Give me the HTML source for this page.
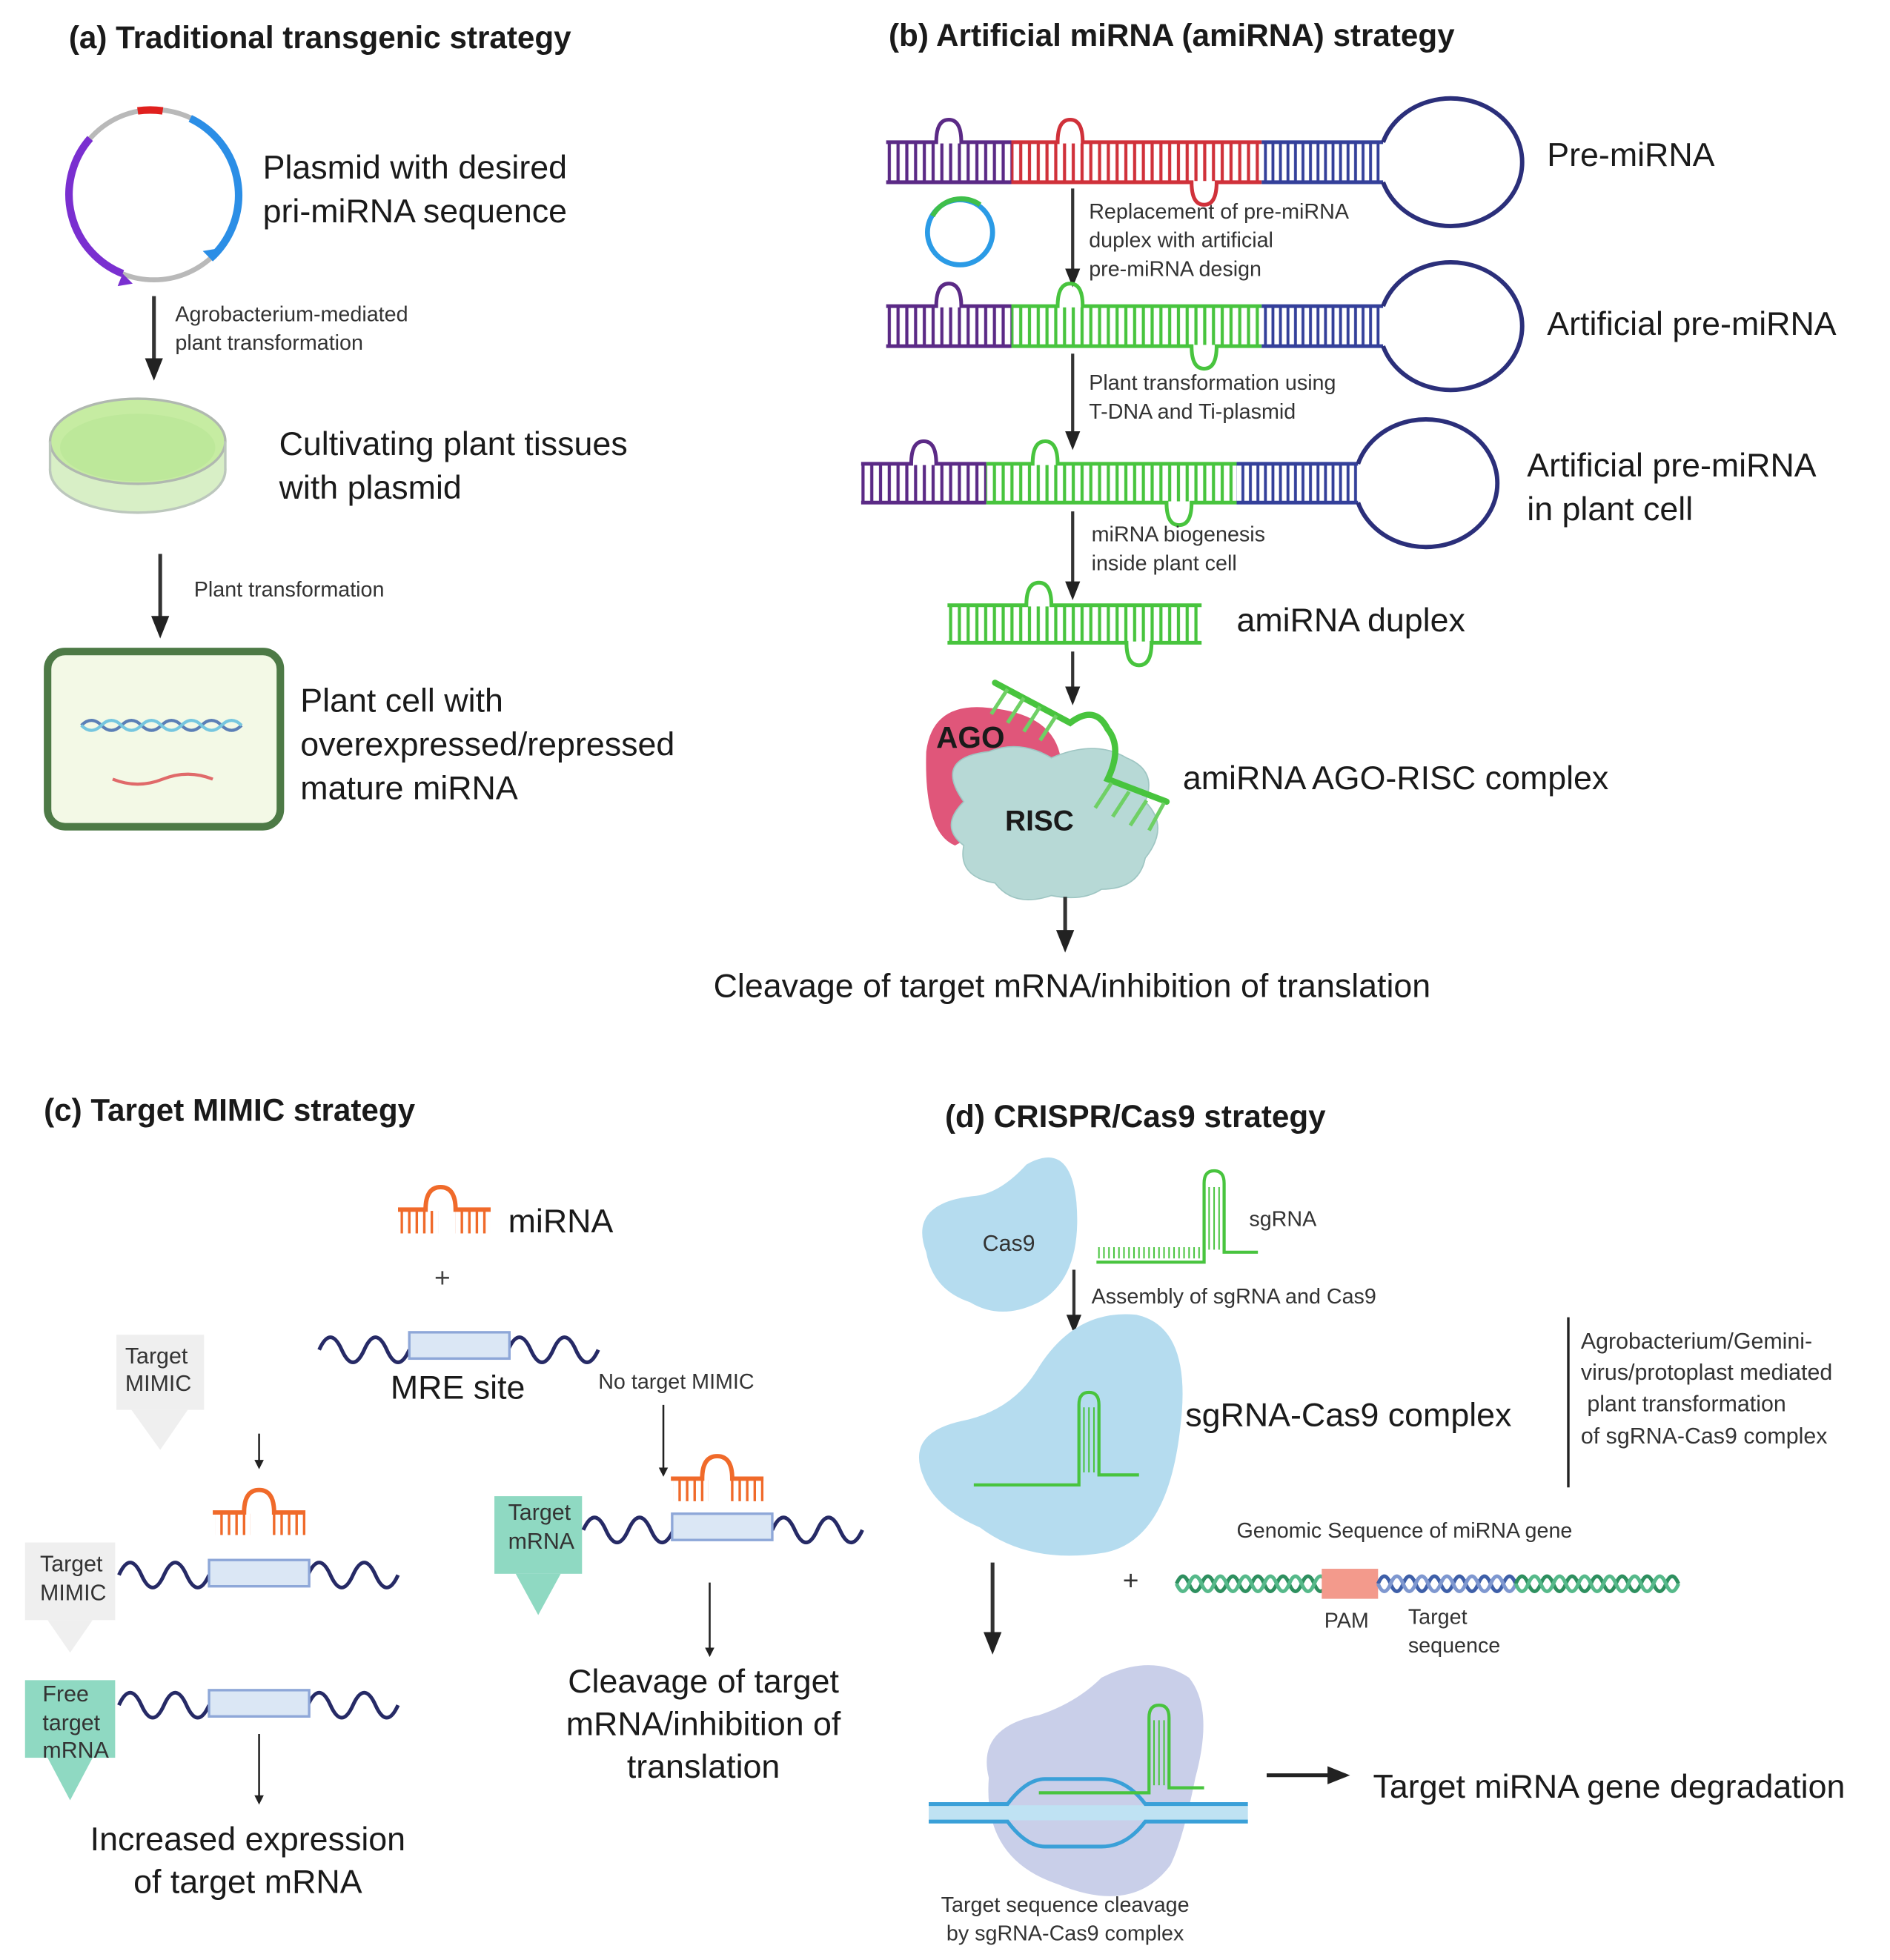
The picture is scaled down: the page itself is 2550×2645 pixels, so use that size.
<!DOCTYPE html>
<html><head><meta charset="utf-8"><style>
html,body{margin:0;padding:0;background:#fff;}
svg{display:block;}
text{font-family:"Liberation Sans",sans-serif;fill:#1a1a1a;}
.h{font-weight:bold;font-size:25px;}
.L{font-size:26.5px;}
.s{font-size:17px;fill:#333;}
.m{font-size:18px;fill:#333;}
</style></head><body>
<svg width="2550" height="2645" viewBox="0 0 1510 1565" xmlns="http://www.w3.org/2000/svg">
<defs>
<pattern id="pp" width="7" height="40" patternUnits="userSpaceOnUse"><line x1="3.5" y1="0" x2="3.5" y2="40" stroke="#5b2a86" stroke-width="2.5"/></pattern>
<pattern id="pr" width="7" height="40" patternUnits="userSpaceOnUse"><line x1="3.5" y1="0" x2="3.5" y2="40" stroke="#d0313a" stroke-width="2.5"/></pattern>
<pattern id="pg" width="7" height="40" patternUnits="userSpaceOnUse"><line x1="3.5" y1="0" x2="3.5" y2="40" stroke="#48c43e" stroke-width="2.5"/></pattern>
<pattern id="pb" width="6" height="40" patternUnits="userSpaceOnUse"><line x1="3" y1="0" x2="3" y2="40" stroke="#34409a" stroke-width="2.3"/></pattern>
<pattern id="po" width="6" height="40" patternUnits="userSpaceOnUse"><line x1="3" y1="0" x2="3" y2="40" stroke="#f06a2a" stroke-width="2"/></pattern>
<pattern id="pl" width="4" height="40" patternUnits="userSpaceOnUse"><line x1="2" y1="0" x2="2" y2="40" stroke="#48c43e" stroke-width="1.2"/></pattern>
<marker id="ar" viewBox="0 0 10 10" refX="8" refY="5" markerWidth="5" markerHeight="5" orient="auto"><path d="M0,0 L10,5 L0,10 z" fill="#222"/></marker>
<marker id="ar2" viewBox="0 0 10 10" refX="8" refY="5" markerWidth="6" markerHeight="6" orient="auto"><path d="M0,1 L10,5 L0,9 z" fill="#222"/></marker>
</defs>

<!-- ===== Panel a ===== -->
<text class="h" x="55" y="38">(a) Traditional transgenic strategy</text>
<circle cx="123" cy="155" r="68" fill="none" stroke="#b9b9b9" stroke-width="4"/>
<path d="M110,88 A68,68 0 0 1 130,88" fill="none" stroke="#e0201e" stroke-width="6"/>
<path d="M152,94 A68,68 0 0 1 168,206" fill="none" stroke="#2b8ee6" stroke-width="6"/>
<path d="M72,110 A68,68 0 0 0 98,218" fill="none" stroke="#7a2fd0" stroke-width="6"/>
<path d="M98,218 l8,8 l-12,2 z" fill="#7a2fd0"/>
<path d="M168,206 l6,-8 l-12,2 z" fill="#2b8ee6"/>
<text class="L" x="210" y="142">Plasmid with desired</text>
<text class="L" x="210" y="177">pri-miRNA sequence</text>
<line x1="123" y1="236" x2="123" y2="300" stroke="#333" stroke-width="3" marker-end="url(#ar2)"/>
<text class="s" x="140" y="256">Agrobacterium-mediated</text>
<text class="s" x="140" y="279">plant transformation</text>
<ellipse cx="110" cy="375" rx="70" ry="34" fill="#d8efc6" stroke="#bcc7bd" stroke-width="2"/>
<rect x="40" y="352" width="140" height="23" fill="#d8efc6"/>
<ellipse cx="110" cy="352" rx="70" ry="34" fill="#c6eca2" stroke="#b0b8b0" stroke-width="2"/>
<ellipse cx="110" cy="357" rx="62" ry="27" fill="#bde89a"/>
<line x1="40" y1="352" x2="40" y2="375" stroke="#bcc7bd" stroke-width="2"/>
<line x1="180" y1="352" x2="180" y2="375" stroke="#bcc7bd" stroke-width="2"/>
<text class="L" x="223" y="363">Cultivating plant tissues</text>
<text class="L" x="223" y="398">with plasmid</text>
<line x1="128" y1="442" x2="128" y2="506" stroke="#333" stroke-width="3" marker-end="url(#ar2)"/>
<text class="s" x="155" y="476">Plant transformation</text>
<rect x="38" y="520" width="186" height="140" rx="14" fill="#f3f9e6" stroke="#4d7a46" stroke-width="6"/>
<path d="M65,579 q8,-8 16,0 t16,0 t16,0 t16,0 t16,0 t16,0 t16,0 t16,0" fill="none" stroke="#5b7fb6" stroke-width="2.5"/>
<path d="M65,579 q8,8 16,0 t16,0 t16,0 t16,0 t16,0 t16,0 t16,0 t16,0" fill="none" stroke="#76c6df" stroke-width="2.5"/>
<path d="M90,622 q20,8 40,0 t40,0" fill="none" stroke="#e06a6a" stroke-width="2.5"/>
<text class="L" x="240" y="568">Plant cell with</text>
<text class="L" x="240" y="603">overexpressed/repressed</text>
<text class="L" x="240" y="638">mature miRNA</text>

<!-- ===== Panel b ===== -->
<text class="h" x="710" y="36">(b) Artificial miRNA (amiRNA) strategy</text>

<g stroke-width="3" fill="none">
<rect x="708" y="114" width="100" height="30" fill="url(#pp)" stroke="none"/>
<rect x="808" y="114" width="200" height="30" fill="url(#pr)" stroke="none"/>
<rect x="1008" y="114" width="97" height="30" fill="url(#pb)" stroke="none"/>
<path d="M708,113 H748 q0,-18 10,-18 q10,0 10,18 H808" stroke="#5b2a86"/>
<path d="M708,145 H808" stroke="#5b2a86"/>
<path d="M808,113 H845 q0,-18 10,-18 q10,0 10,18 H1008" stroke="#d0313a"/>
<path d="M808,145 H952 q0,18 10,18 q10,0 10,-18 H1008" stroke="#d0313a"/>
<path d="M1008,113 H1105" stroke="#34409a"/>
<path d="M1008,145 H1105" stroke="#34409a"/>
<path d="M1105,113 A57,51 0 1 1 1105,145" stroke="#2b2f7a" stroke-width="3.5"/>
</g>
<text class="L" x="1236" y="132">Pre-miRNA</text>
<circle cx="767" cy="185" r="26" fill="none" stroke="#2b9be6" stroke-width="4"/>
<path d="M745,172 A26,26 0 0 1 783,163" fill="none" stroke="#3fbf4a" stroke-width="4"/>
<line x1="857" y1="150" x2="857" y2="226" stroke="#333" stroke-width="2.5" marker-end="url(#ar2)"/>
<text class="s" x="870" y="174">Replacement of pre-miRNA</text>
<text class="s" x="870" y="197">duplex with artificial</text>
<text class="s" x="870" y="220">pre-miRNA design</text>

<g stroke-width="3" fill="none">
<rect x="708" y="245" width="100" height="30" fill="url(#pp)" stroke="none"/>
<rect x="808" y="245" width="200" height="30" fill="url(#pg)" stroke="none"/>
<rect x="1008" y="245" width="97" height="30" fill="url(#pb)" stroke="none"/>
<path d="M708,244 H748 q0,-18 10,-18 q10,0 10,18 H808" stroke="#5b2a86"/>
<path d="M708,276 H808" stroke="#5b2a86"/>
<path d="M808,244 H845 q0,-18 10,-18 q10,0 10,18 H1008" stroke="#48c43e"/>
<path d="M808,276 H952 q0,18 10,18 q10,0 10,-18 H1008" stroke="#48c43e"/>
<path d="M1008,244 H1105" stroke="#34409a"/>
<path d="M1008,276 H1105" stroke="#34409a"/>
<path d="M1105,244 A57,51 0 1 1 1105,276" stroke="#2b2f7a" stroke-width="3.5"/>
</g>
<text class="L" x="1236" y="267">Artificial pre-miRNA</text>
<line x1="857" y1="282" x2="857" y2="356" stroke="#333" stroke-width="2.5" marker-end="url(#ar2)"/>
<text class="s" x="870" y="311">Plant transformation using</text>
<text class="s" x="870" y="334">T-DNA and Ti-plasmid</text>

<g stroke-width="3" fill="none">
<rect x="688" y="371" width="100" height="29" fill="url(#pp)" stroke="none"/>
<rect x="788" y="371" width="200" height="29" fill="url(#pg)" stroke="none"/>
<rect x="988" y="371" width="97" height="29" fill="url(#pb)" stroke="none"/>
<path d="M688,370 H728 q0,-18 10,-18 q10,0 10,18 H788" stroke="#5b2a86"/>
<path d="M688,401 H788" stroke="#5b2a86"/>
<path d="M788,370 H825 q0,-18 10,-18 q10,0 10,18 H988" stroke="#48c43e"/>
<path d="M788,401 H932 q0,18 10,18 q10,0 10,-18 H988" stroke="#48c43e"/>
<path d="M988,370 H1085" stroke="#34409a"/>
<path d="M988,401 H1085" stroke="#34409a"/>
<path d="M1085,370 A57,51 0 1 1 1085,401" stroke="#2b2f7a" stroke-width="3.5"/>
</g>
<text class="L" x="1220" y="380">Artificial pre-miRNA</text>
<text class="L" x="1220" y="415">in plant cell</text>
<line x1="857" y1="408" x2="857" y2="476" stroke="#333" stroke-width="2.5" marker-end="url(#ar2)"/>
<text class="s" x="872" y="432">miRNA biogenesis</text>
<text class="s" x="872" y="455">inside plant cell</text>

<g stroke-width="3" fill="none" stroke="#48c43e">
<rect x="757" y="484" width="203" height="28" fill="url(#pg)" stroke="none"/>
<path d="M757,483 H820 q0,-18 10,-18 q10,0 10,18 H960"/>
<path d="M757,513 H900 q0,18 10,18 q10,0 10,-18 H960"/>
</g>
<text class="L" x="988" y="504">amiRNA duplex</text>
<line x1="857" y1="520" x2="857" y2="560" stroke="#333" stroke-width="2.5" marker-end="url(#ar2)"/>

<path d="M740,600 q5,-40 50,-35 q55,5 58,45 q2,30 -40,40 l-45,25 q-25,-10 -23,-75z" fill="#e0567a"/>
<path d="M770,640 q-25,-35 20,-40 q25,-10 50,5 q35,-15 60,0 q25,10 15,35 q20,20 0,45 q-5,25 -35,25 q-15,10 -40,5 q-30,10 -45,-10 q-30,-5 -25,-30 q-20,-15 0,-35z" fill="#b7d9d6" stroke="#9fc6c3" stroke-width="1"/>
<text x="748" y="597" style="font-weight:bold;font-size:24px;">AGO</text>
<text x="803" y="663" style="font-weight:bold;font-size:23px;">RISC</text>
<g stroke="#48c43e" stroke-width="5" fill="none" stroke-linecap="round">
<path d="M795,545 L855,577 q20,-15 30,5 q12,15 0,40 L932,640"/>
</g>
<g stroke="#6fd065" stroke-width="3">
<line x1="805" y1="550" x2="792" y2="570"/><line x1="818" y1="557" x2="805" y2="577"/><line x1="831" y1="564" x2="818" y2="584"/><line x1="844" y1="571" x2="831" y2="591"/>
<line x1="888" y1="625" x2="875" y2="645"/><line x1="902" y1="632" x2="889" y2="652"/><line x1="916" y1="639" x2="903" y2="659"/><line x1="930" y1="641" x2="918" y2="663"/>
</g>
<text class="L" x="945" y="630">amiRNA AGO-RISC complex</text>
<line x1="851" y1="716" x2="851" y2="757" stroke="#333" stroke-width="3" marker-end="url(#ar2)"/>
<text class="L" x="570" y="796">Cleavage of target mRNA/inhibition of translation</text>

<!-- ===== Panel c ===== -->
<text class="h" x="35" y="895">(c) Target MIMIC strategy</text>
<g>
<rect x="320" y="967" width="30" height="18" fill="url(#po)"/>
<rect x="364" y="967" width="28" height="18" fill="url(#po)"/>
<path d="M318,966 H340 q0,-18 12,-18 q12,0 12,18 H392" fill="none" stroke="#f06a2a" stroke-width="3.5"/>
</g>
<text class="L" x="406" y="984">miRNA</text>
<text x="347" y="1028" style="font-size:22px;fill:#444">+</text>
<path d="M255,1078 q9,-20 18,0 t18,0 t18,0 t18,0" fill="none" stroke="#262a66" stroke-width="3"/>
<path d="M406,1078 q9,-20 18,0 t18,0 t18,0 t18,0" fill="none" stroke="#262a66" stroke-width="3"/>
<rect x="327" y="1064" width="80" height="21" fill="#dbe7f5" stroke="#8ea7d8" stroke-width="2"/>
<text class="L" x="312" y="1117">MRE site</text>
<rect x="93" y="1066" width="70" height="60" fill="#efefef"/>
<path d="M105,1126 L128,1158 L150,1126z" fill="#efefef"/>
<text class="m" x="100" y="1089">Target</text>
<text class="m" x="100" y="1111">MIMIC</text>
<line x1="207" y1="1145" x2="207" y2="1172" stroke="#222" stroke-width="1.5" marker-end="url(#ar)"/>
<g>
<rect x="172" y="1209" width="28" height="17" fill="url(#po)"/>
<rect x="216" y="1209" width="28" height="17" fill="url(#po)"/>
<path d="M170,1208 H195 q0,-18 12,-18 q12,0 12,18 H244" fill="none" stroke="#f06a2a" stroke-width="3.5"/>
</g>
<rect x="20" y="1232" width="72" height="62" fill="#efefef"/>
<path d="M38,1294 L56,1320 L74,1294z" fill="#efefef"/>
<text class="m" x="32" y="1255">Target</text>
<text class="m" x="32" y="1278">MIMIC</text>
<path d="M95,1258 q9,-20 18,0 t18,0 t18,0 t18,0" fill="none" stroke="#262a66" stroke-width="3"/>
<path d="M246,1258 q9,-20 18,0 t18,0 t18,0 t18,0" fill="none" stroke="#262a66" stroke-width="3"/>
<rect x="167" y="1246" width="80" height="21" fill="#dbe7f5" stroke="#8ea7d8" stroke-width="2"/>
<rect x="20" y="1342" width="72" height="62" fill="#8fd9c2"/>
<path d="M38,1404 L56,1438 L74,1404z" fill="#8fd9c2"/>
<text class="m" x="34" y="1359">Free</text>
<text class="m" x="34" y="1382">target</text>
<text class="m" x="34" y="1404">mRNA</text>
<path d="M95,1362 q9,-20 18,0 t18,0 t18,0 t18,0" fill="none" stroke="#262a66" stroke-width="3"/>
<path d="M246,1362 q9,-20 18,0 t18,0 t18,0 t18,0" fill="none" stroke="#262a66" stroke-width="3"/>
<rect x="167" y="1350" width="80" height="21" fill="#dbe7f5" stroke="#8ea7d8" stroke-width="2"/>
<line x1="207" y1="1385" x2="207" y2="1440" stroke="#222" stroke-width="1.5" marker-end="url(#ar)"/>
<text class="L" x="198" y="1478" text-anchor="middle">Increased expression</text>
<text class="L" x="198" y="1512" text-anchor="middle">of target mRNA</text>
<text class="s" x="478" y="1109">No target MIMIC</text>
<line x1="530" y1="1122" x2="530" y2="1178" stroke="#222" stroke-width="1.5" marker-end="url(#ar)"/>
<g>
<rect x="538" y="1182" width="28" height="17" fill="url(#po)"/>
<rect x="582" y="1182" width="28" height="17" fill="url(#po)"/>
<path d="M536,1181 H561 q0,-18 12,-18 q12,0 12,18 H610" fill="none" stroke="#f06a2a" stroke-width="3.5"/>
</g>
<rect x="395" y="1195" width="70" height="62" fill="#8fd9c2"/>
<path d="M412,1257 L430,1290 L448,1257z" fill="#8fd9c2"/>
<text class="m" x="406" y="1214">Target</text>
<text class="m" x="406" y="1237">mRNA</text>
<path d="M466,1222 q9,-20 18,0 t18,0 t18,0 t18,0" fill="none" stroke="#262a66" stroke-width="3"/>
<path d="M617,1222 q9,-20 18,0 t18,0 t18,0 t18,0" fill="none" stroke="#262a66" stroke-width="3"/>
<rect x="537" y="1209" width="80" height="21" fill="#dbe7f5" stroke="#8ea7d8" stroke-width="2"/>
<line x1="567" y1="1264" x2="567" y2="1322" stroke="#222" stroke-width="1.5" marker-end="url(#ar)"/>
<text class="L" x="562" y="1352" text-anchor="middle">Cleavage of target</text>
<text class="L" x="562" y="1386" text-anchor="middle">mRNA/inhibition of</text>
<text class="L" x="562" y="1420" text-anchor="middle">translation</text>

<!-- ===== Panel d ===== -->
<text class="h" x="755" y="900">(d) CRISPR/Cas9 strategy</text>
<path d="M740,1000 q-15,-40 40,-45 q20,-3 40,-25 q35,-20 40,30 q5,60 -30,80 q-30,15 -55,0 q-30,-10 -35,-40z" fill="#b5dcef"/>
<text class="m" x="785" y="999">Cas9</text>
<g fill="none" stroke="#48c43e" stroke-width="2.5">
<rect x="876" y="996" width="85" height="9" fill="url(#pl)" stroke="none"/>
<path d="M876,1008 H962 V945 q0,-10 8,-10 q8,0 8,10 V1000 H1005"/>
<rect x="964" y="948" width="12" height="50" fill="url(#pl)" stroke="none"/>
</g>
<text class="s" x="998" y="979">sgRNA</text>
<line x1="858" y1="1014" x2="858" y2="1062" stroke="#333" stroke-width="2.5" marker-end="url(#ar2)"/>
<text class="s" x="872" y="1041">Assembly of sgRNA and Cas9</text>
<path d="M738,1180 q-15,-35 30,-45 q40,-8 60,-40 q30,-50 80,-45 q45,10 35,90 q-10,90 -60,100 q-60,10 -100,-20 q-35,-15 -45,-40z" fill="#b5dcef"/>
<g fill="none" stroke="#48c43e" stroke-width="2.5">
<path d="M778,1186 H862 V1122 q0,-10 8,-10 q8,0 8,10 V1178 H910"/>
<rect x="864" y="1124" width="12" height="52" fill="url(#pl)" stroke="none"/>
</g>
<text class="L" x="947" y="1139">sgRNA-Cas9 complex</text>
<line x1="1253" y1="1052" x2="1253" y2="1188" stroke="#222" stroke-width="2"/>
<text class="m" x="1263" y="1077">Agrobacterium/Gemini-</text>
<text class="m" x="1263" y="1102">virus/protoplast mediated</text>
<text class="m" x="1268" y="1127">plant transformation</text>
<text class="m" x="1263" y="1153">of sgRNA-Cas9 complex</text>
<line x1="793" y1="1248" x2="793" y2="1318" stroke="#333" stroke-width="3" marker-end="url(#ar2)"/>
<text class="s" x="988" y="1228">Genomic Sequence of miRNA gene</text>
<text x="897" y="1270" style="font-size:22px;fill:#333">+</text>
<g fill="none" stroke-width="3">
<path d="M940,1265 q5,-12 10,0 t10,0 t10,0 t10,0 t10,0 t10,0 t10,0 t10,0 t10,0 t10,0 t10,0 t10,0" stroke="#2e8f5f"/>
<path d="M940,1265 q5,12 10,0 t10,0 t10,0 t10,0 t10,0 t10,0 t10,0 t10,0 t10,0 t10,0 t10,0 t10,0" stroke="#56b98a"/>
<rect x="1056" y="1253" width="45" height="24" fill="#f39a8c" stroke="none"/>
<path d="M1101,1265 q5,-12 10,0 t10,0 t10,0 t10,0 t10,0 t10,0 t10,0 t10,0 t10,0 t10,0 t10,0" stroke="#3e5fa8"/>
<path d="M1101,1265 q5,12 10,0 t10,0 t10,0 t10,0 t10,0 t10,0 t10,0 t10,0 t10,0 t10,0 t10,0" stroke="#7f98d0"/>
<path d="M1211,1265 q5,-12 10,0 t10,0 t10,0 t10,0 t10,0 t10,0 t10,0 t10,0 t10,0 t10,0 t10,0 t10,0 t10,0" stroke="#2e8f5f"/>
<path d="M1211,1265 q5,12 10,0 t10,0 t10,0 t10,0 t10,0 t10,0 t10,0 t10,0 t10,0 t10,0 t10,0 t10,0 t10,0" stroke="#56b98a"/>
</g>
<text class="s" x="1058" y="1300">PAM</text>
<text class="s" x="1125" y="1297">Target</text>
<text class="s" x="1125" y="1320">sequence</text>
<path d="M790,1420 q-10,-40 40,-50 q30,-10 50,-30 q40,-20 70,0 q20,25 5,80 q-10,50 -20,70 q-30,40 -90,15 q-60,-20 -55,-85z" fill="#c9cfe9"/>
<g fill="none" stroke="#3aa0d8" stroke-width="3">
<rect x="742" y="1442" width="255" height="12" fill="#bfe2f3" stroke="none"/>
<path d="M742,1441 H805 q15,-20 30,-20 H880 q20,0 35,20 H997"/>
<path d="M742,1455 H805 q15,20 30,20 H880 q20,0 35,-20 H997"/>
</g>
<g fill="none" stroke="#48c43e" stroke-width="2.5">
<path d="M830,1432 H918 V1372 q0,-10 8,-10 q8,0 8,10 V1428 H962"/>
<rect x="920" y="1374" width="12" height="52" fill="url(#pl)" stroke="none"/>
</g>
<line x1="1012" y1="1418" x2="1075" y2="1418" stroke="#222" stroke-width="3" marker-end="url(#ar2)"/>
<text class="L" x="1097" y="1436">Target miRNA gene degradation</text>
<text class="s" x="851" y="1527" text-anchor="middle">Target sequence cleavage</text>
<text class="s" x="851" y="1550" text-anchor="middle">by sgRNA-Cas9 complex</text>
</svg>
</body></html>
